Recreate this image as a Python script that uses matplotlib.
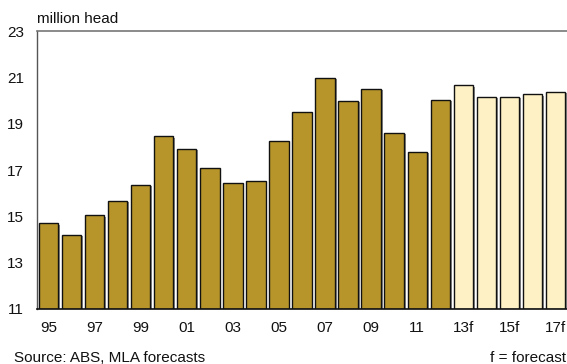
import matplotlib
matplotlib.use("Agg")
import matplotlib.pyplot as plt
import matplotlib.patheffects as pe

plt.rcParams['font.family'] = ['Liberation Sans', 'DejaVu Sans']

years = ["95", "96", "97", "98", "99", "00", "01", "02", "03", "04", "05", "06",
         "07", "08", "09", "10", "11", "12", "13f", "14f", "15f", "16f", "17f"]
herd = [14.70, 14.20, 15.04, 15.66, 16.35, 18.45, 17.92, 17.09, 16.42, 16.51,
        18.24, 19.49, 20.97, 19.98, 20.50, 18.61, 17.79, 20.02,
        20.66, 20.15, 20.16, 20.27, 20.37]
is_forecast = [y.endswith("f") for y in years]
tick_labels = [y if i % 2 == 0 else "" for i, y in enumerate(years)]
y_ticks = [11, 13, 15, 17, 19, 21, 23]

actual_color = "#B8952A"
forecast_color = "#FEF1C5"

fig = plt.figure(figsize=(5.67, 3.64), dpi=100)
ax = fig.add_axes([37 / 567, 1 - 309 / 364, 1 - 37 / 567, (309 - 31) / 364])

x = list(range(len(years)))
colors = [forecast_color if f else actual_color for f in is_forecast]
bars = ax.bar(x, [v - 11 for v in herd], bottom=11, width=0.84,
              color=colors, edgecolor="#111111", linewidth=1.0, zorder=3)
for b in bars:
    b.set_path_effects([pe.SimplePatchShadow(offset=(1.3, -1.0), shadow_rgbFace="#808080", alpha=0.9),
                        pe.Normal()])

ax.set_xlim(-0.5, len(years) - 0.5)
ax.set_ylim(11, 23)
ax.set_yticks(y_ticks)
ax.set_xticks(x)
ax.set_xticklabels(tick_labels)
ax.tick_params(axis="both", length=0, labelsize=11, colors="#111111")
ax.tick_params(axis="y", pad=9.4)
ax.tick_params(axis="x", pad=8.5)

ax.spines["right"].set_visible(False)
ax.spines["top"].set_color("#777777")
ax.spines["top"].set_linewidth(1.2)
ax.spines["left"].set_color("#555555")
ax.spines["left"].set_linewidth(1.0)
ax.spines["bottom"].set_color("#111111")
ax.spines["bottom"].set_linewidth(1.2)
ax.spines["bottom"].set_zorder(4)

fig.text(37 / 567, 1 - 19 / 364, "million head", fontsize=11, ha="left", va="center", color="#111111")
fig.text(14 / 567, 1 - 358 / 364, "Source: ABS, MLA forecasts", fontsize=11, ha="left", va="center", color="#111111")
fig.text(566 / 567, 1 - 358 / 364, "f = forecast", fontsize=11, ha="right", va="center", color="#111111")

fig.savefig("out.png", dpi=100)
